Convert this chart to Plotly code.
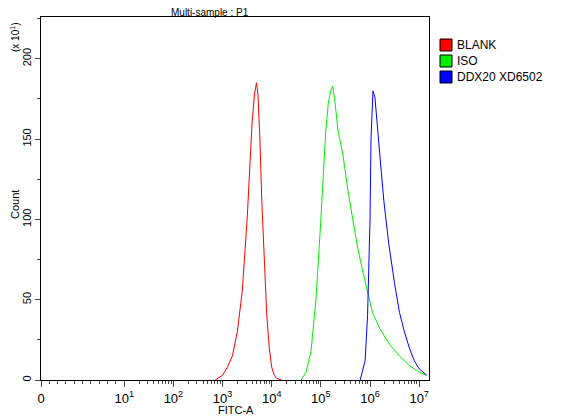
import math
import plotly.graph_objects as go

# log10(FITC-A) positions and counts
blank_logx = [2.85, 3.0, 3.1, 3.2, 3.3, 3.4, 3.5, 3.55, 3.6, 3.65, 3.69, 3.72, 3.76, 3.8, 3.85, 3.9, 3.95, 4.0, 4.05, 4.1, 4.2]
blank_cnt  = [0, 3, 8, 15, 30, 55, 100, 130, 160, 178, 185, 178, 150, 110, 70, 40, 20, 8, 3, 1, 0]
iso_logx = [4.6, 4.7, 4.8, 4.9, 5.0, 5.05, 5.1, 5.15, 5.2, 5.24, 5.28, 5.35, 5.45, 5.55, 5.65, 5.75, 5.85, 5.95, 6.05, 6.2, 6.4, 6.6, 6.8, 7.0, 7.15]
iso_cnt  = [0, 5, 18, 50, 100, 130, 155, 172, 180, 183, 175, 155, 140, 118, 100, 82, 68, 55, 42, 32, 22, 15, 9, 5, 3]
blue_logx = [5.8, 5.9, 5.95, 6.0, 6.02, 6.06, 6.1, 6.15, 6.2, 6.28, 6.38, 6.5, 6.6, 6.7, 6.8, 6.9, 7.0, 7.15]
blue_cnt  = [0, 12, 40, 100, 150, 180, 176, 160, 140, 112, 85, 60, 42, 30, 20, 12, 7, 3]

ZERO_GAP = 83 / 49  # display width of the 0..10^1 segment in decades

def disp(lx):
    return ZERO_GAP + (lx - 1)

tick_vals = [0] + [disp(k) for k in range(1, 8)]
tick_text = ["0"] + [f"10<sup>{k}</sup>" for k in range(1, 8)]
minor_vals = [ZERO_GAP * k / 10 for k in range(1, 10)] + \
             [disp(d + math.log10(m)) for d in range(1, 8) for m in range(2, 10) if d + math.log10(m) < 7.2]

fig = go.Figure()
for lx, c, col in [(blank_logx, blank_cnt, "red"), (iso_logx, iso_cnt, "#00ee00"), (blue_logx, blue_cnt, "blue")]:
    fig.add_trace(go.Scatter(x=[disp(v) for v in lx], y=c, mode="lines",
                             line=dict(color=col, width=1), showlegend=False))

def px(x):  # window pixel -> paper x
    return (x - 41) / 388

def py(y):  # window pixel -> paper y
    return (380 - y) / 363

xmax = disp(7.2)
fig.update_layout(
    width=566, height=420, plot_bgcolor="white", paper_bgcolor="white",
    margin=dict(l=33, r=145, t=9, b=48, autoexpand=False),
    font=dict(family="Liberation Sans, Arial", size=12, color="black"),
    xaxis=dict(range=[0, xmax], tickvals=tick_vals, ticktext=tick_text, ticks="outside", ticklen=6, automargin=False,
               minor=dict(tickvals=minor_vals, ticks="outside", ticklen=3),
               showline=True, linecolor="black", showgrid=False, zeroline=False, mirror=True,
               tickfont=dict(size=13)),
    yaxis=dict(range=[0, 226], tickvals=[0, 50, 100, 150, 200], ticks="outside", ticklen=5, automargin=False,
               minor=dict(tickvals=[25, 75, 125, 175, 225], ticks="outside", ticklen=3),
               showline=True, linecolor="black", showgrid=False, zeroline=False, mirror=True,
               tickangle=-90, tickfont=dict(size=11)),
)
anns = [
    ("Multi-sample : P1", 210, 12.5, 0, 10),
    ("FITC-A", 236, 410, 0, 11),
    ("Count", 15, 205, -90, 11),
    ("(x 10<sup>1</sup>)", 15, 38, -90, 10),
]
for t, x, y, ang, s in anns:
    fig.add_annotation(text=t, xref="paper", yref="paper", x=px(x), y=py(y), textangle=ang,
                       showarrow=False, xanchor="center", yanchor="middle", font=dict(size=s))

legend_labels = ["BLANK", "ISO", "DDX20 XD6502"]
legend_colors = ["red", "#00ee00", "blue"]
for i, (lab, col) in enumerate(zip(legend_labels, legend_colors)):
    yc = 45 + 16 * i
    fig.add_shape(type="rect", xref="paper", yref="paper",
                  x0=px(440), x1=px(452), y0=py(yc + 6), y1=py(yc - 6),
                  fillcolor=col, line=dict(color="black", width=1))
    fig.add_annotation(text=lab, xref="paper", yref="paper", x=px(455), y=py(yc),
                       showarrow=False, xanchor="left", yanchor="middle", font=dict(size=12))

fig.write_html("out.html")
